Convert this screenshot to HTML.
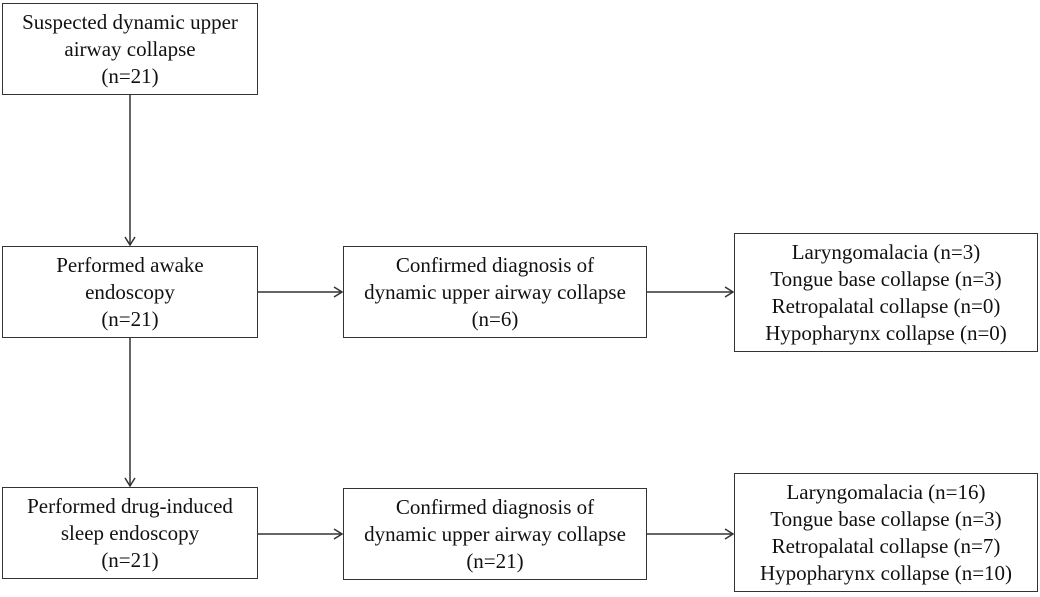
<!DOCTYPE html>
<html><head><style>
body{margin:0;background:#fff;width:1040px;height:597px;position:relative;overflow:hidden;font-family:"Liberation Serif",serif;color:#111}
.b{position:absolute;border:1.5px solid #333;box-sizing:border-box;display:flex;align-items:center;justify-content:center;text-align:center;font-size:21px;line-height:27px}
</style></head><body>
<div class="b" style="left:2px;top:3px;width:256px;height:92px">Suspected dynamic upper<br>airway collapse<br>(n=21)</div>
<div class="b" style="left:2px;top:246px;width:256px;height:92px">Performed awake<br>endoscopy<br>(n=21)</div>
<div class="b" style="left:2px;top:487px;width:256px;height:92px">Performed drug-induced<br>sleep endoscopy<br>(n=21)</div>
<div class="b" style="left:343px;top:246px;width:304px;height:92px">Confirmed diagnosis of<br>dynamic upper airway collapse<br>(n=6)</div>
<div class="b" style="left:343px;top:488px;width:304px;height:92px">Confirmed diagnosis of<br>dynamic upper airway collapse<br>(n=21)</div>
<div class="b" style="left:734px;top:233px;width:304px;height:119px">Laryngomalacia (n=3)<br>Tongue base collapse (n=3)<br>Retropalatal collapse (n=0)<br>Hypopharynx collapse (n=0)</div>
<div class="b" style="left:734px;top:473px;width:304px;height:119px">Laryngomalacia (n=16)<br>Tongue base collapse (n=3)<br>Retropalatal collapse (n=7)<br>Hypopharynx collapse (n=10)</div>
<svg width="1040" height="597" style="position:absolute;left:0;top:0" fill="none" stroke="#333" stroke-width="1.5">
<line x1="130" y1="95" x2="130" y2="245"/><polyline points="125,237 130,245 135,237"/>
<line x1="130" y1="338" x2="130" y2="486"/><polyline points="125,478 130,486 135,478"/>
<line x1="258" y1="292" x2="342" y2="292"/><polyline points="334,287 342,292 334,297"/>
<line x1="258" y1="534" x2="342" y2="534"/><polyline points="334,529 342,534 334,539"/>
<line x1="647" y1="292" x2="733" y2="292"/><polyline points="725,287 733,292 725,297"/>
<line x1="647" y1="534" x2="733" y2="534"/><polyline points="725,529 733,534 725,539"/>
</svg>
</body></html>
